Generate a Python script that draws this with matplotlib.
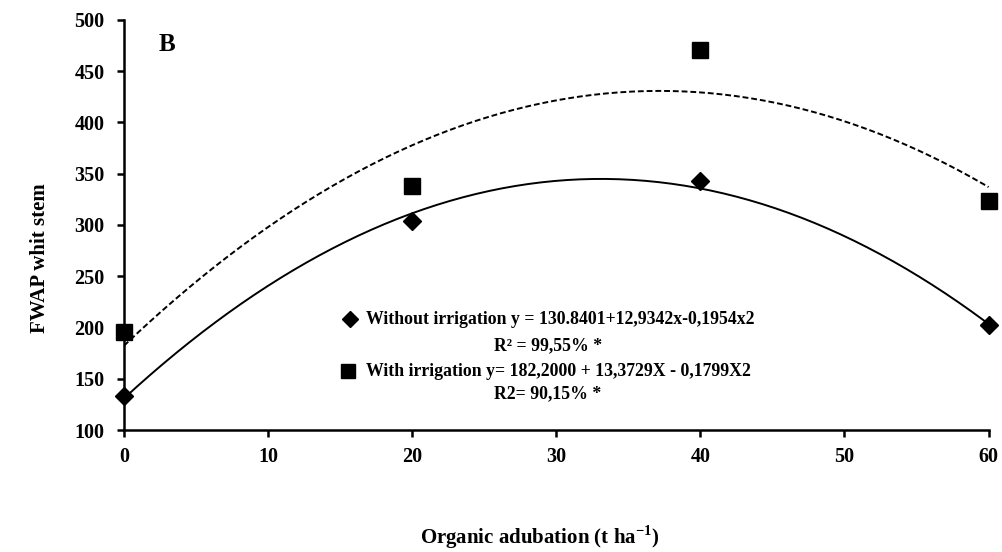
import numpy as np
import matplotlib
matplotlib.use("Agg")
import matplotlib.pyplot as plt

plt.rcParams['font.family'] = ['Liberation Serif', 'DejaVu Sans']
plt.rcParams['font.weight'] = 'bold'
plt.rcParams['mathtext.fontset'] = 'custom'
plt.rcParams['mathtext.rm'] = 'Liberation Serif:bold'
plt.rcParams['mathtext.bf'] = 'Liberation Serif:bold'

# doses of organic adubation (t/ha)
doses = [0, 20, 40, 60]
without_irr = [133, 304, 343, 202]
with_irr = [196, 338, 471, 323]

# quadratic fits as printed on the chart (a + b x + c x^2)
coef_without = [130.8401, 12.9342, -0.1954]
coef_with = [182.2000, 13.3729, -0.1799]

xticks = [0, 10, 20, 30, 40, 50, 60]
yticks = [100, 150, 200, 250, 300, 350, 400, 450, 500]

fig = plt.figure(figsize=(10.03, 5.52), dpi=100)
ax = fig.add_axes([0.1236, 0.221, 0.862, 0.743])

xs = np.linspace(0, 60, 200)
fit_wo = coef_without[0] + coef_without[1]*xs + coef_without[2]*xs**2
fit_w = coef_with[0] + coef_with[1]*xs + coef_with[2]*xs**2

ax.plot(xs, fit_wo, color='black', lw=1.4)
ax.plot(xs, fit_w, color='black', lw=1.4, linestyle=(0, (3, 1.5)))
ax.plot(doses, without_irr, 'D', color='black', markersize=9, clip_on=False, zorder=5)
ax.plot(doses, with_irr, 's', color='black', markersize=12, clip_on=False, zorder=5)

ax.set_xlim(0, 60)
ax.set_ylim(100, 500)
ax.set_xticks(xticks)
ax.set_yticks(yticks)
ax.spines['top'].set_visible(False)
ax.spines['right'].set_visible(False)
for s in ['left', 'bottom']:
    ax.spines[s].set_linewidth(1.8)
ax.tick_params(direction='out', length=5, width=1.8, labelsize=14.5)
ax.tick_params(axis='y', pad=9)
ax.tick_params(axis='x', pad=7)
for lab in ax.get_xticklabels() + ax.get_yticklabels():
    lab.set_fontweight('bold')

ax.text(0.04, 0.94, 'B', transform=ax.transAxes, fontsize=18, fontweight='bold', va='center')

# equation box
fx = lambda px: px/1003
fy = lambda py: 1 - py/552
fig.text(fx(366), fy(320), 'Without irrigation y = 130.8401+12,9342x-0,1954x2',
         ha='left', va='center', fontsize=12.8, fontweight='bold')
fig.text(fx(548), fy(346), 'R\u00b2 = 99,55% *', ha='center', va='center', fontsize=12.8, fontweight='bold')
fig.text(fx(366), fy(372), 'With irrigation y= 182,2000 + 13,3729X - 0,1799X2',
         ha='left', va='center', fontsize=12.8, fontweight='bold')
fig.text(fx(548), fy(394), 'R2= 90,15% *', ha='center', va='center', fontsize=12.8, fontweight='bold')
fig.lines.append(plt.Line2D([fx(350)], [fy(319)], marker='D', markersize=8.5, color='black',
                            transform=fig.transFigure))
fig.lines.append(plt.Line2D([fx(348)], [fy(371)], marker='s', markersize=10, color='black',
                            transform=fig.transFigure))

fig.text(fx(540), fy(537), 'Organic adubation (t ha$^{-1}$)', ha='center', va='center',
         fontsize=15, fontweight='bold')
fig.text(fx(40), fy(258), 'FWAP whit stem', ha='center', va='center', rotation=90,
         fontsize=15, fontweight='bold')

fig.savefig('out.png', dpi=100)
